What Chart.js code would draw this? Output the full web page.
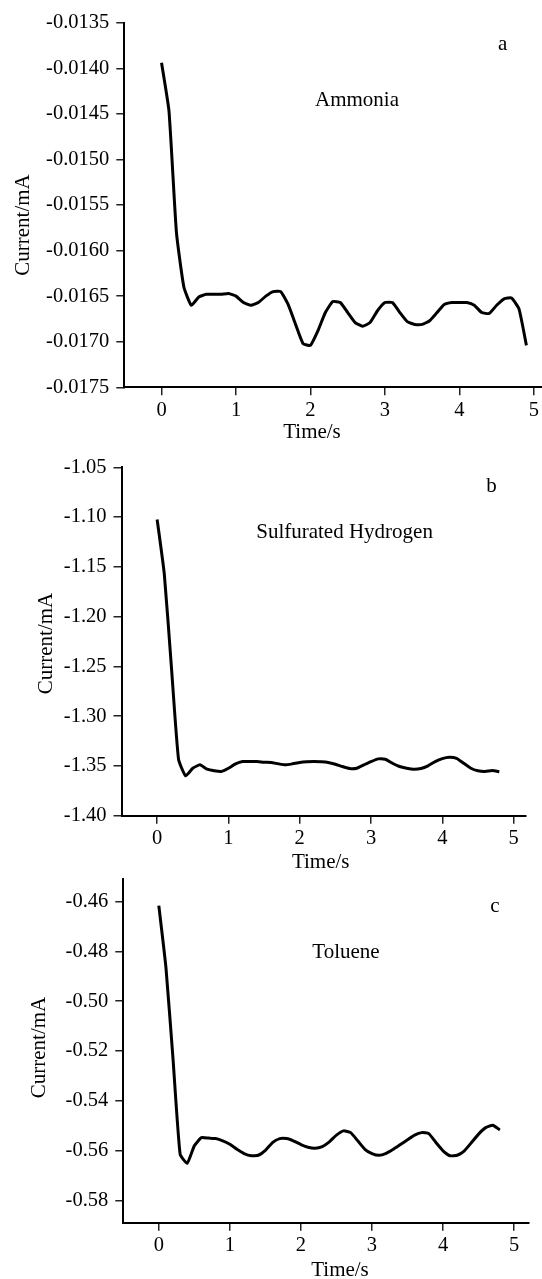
<!DOCTYPE html>
<html><head><meta charset="utf-8">
<script src="https://cdn.jsdelivr.net/npm/chart.js@4"></script>
<style>
html,body{margin:0;padding:0;background:#fff;}
body{width:542px;height:1279px;position:relative;overflow:hidden;}
.p{position:absolute;left:0;width:542px;}
</style></head><body>
<div class="p" style="top:0;height:445px"><canvas id="ca"></canvas></div>
<div class="p" style="top:445px;height:427px"><canvas id="cb"></canvas></div>
<div class="p" style="top:860px;height:419px"><canvas id="cc"></canvas></div>
<script>
// ---- data ----
const timeA = [0,0.1,0.2,0.3,0.4,0.5,0.6,0.7,0.8,0.9,1.0,1.1,1.2,1.3,1.4,1.5,1.6,1.7,1.8,1.9,2.0,2.1,2.2,2.3,2.4,2.5,2.6,2.7,2.8,2.9,3.0,3.1,3.2,3.3,3.4,3.5,3.6,3.7,3.8,3.9,4.0,4.1,4.2,4.3,4.4,4.5,4.6,4.7,4.8,4.9];
const currentAmmonia = [-0.01394,-0.01447,-0.0158,-0.0164,-0.0166,-0.01651,-0.01648,-0.01648,-0.01648,-0.01647,-0.0165,-0.01657,-0.0166,-0.01657,-0.0165,-0.01645,-0.01645,-0.01659,-0.01681,-0.01702,-0.01704,-0.01688,-0.01668,-0.01656,-0.01657,-0.01668,-0.01679,-0.01683,-0.01679,-0.01666,-0.01657,-0.01657,-0.01668,-0.01678,-0.01681,-0.01681,-0.01677,-0.01668,-0.01659,-0.01657,-0.01657,-0.01657,-0.0166,-0.01668,-0.01669,-0.0166,-0.01653,-0.01652,-0.01664,-0.01704];
const timeBC = [0,0.1,0.2,0.3,0.4,0.5,0.6,0.7,0.8,0.9,1.0,1.1,1.2,1.3,1.4,1.5,1.6,1.7,1.8,1.9,2.0,2.1,2.2,2.3,2.4,2.5,2.6,2.7,2.8,2.9,3.0,3.1,3.2,3.3,3.4,3.5,3.6,3.7,3.8,3.9,4.0,4.1,4.2,4.3,4.4,4.5,4.6,4.7,4.8];
const currentH2S = [-1.1024,-1.1569,-1.2504,-1.3433,-1.36,-1.3523,-1.3489,-1.3533,-1.3549,-1.3556,-1.3523,-1.3479,-1.3456,-1.3456,-1.3456,-1.3463,-1.3466,-1.3479,-1.3489,-1.3479,-1.3466,-1.3459,-1.3456,-1.3459,-1.3466,-1.3483,-1.3506,-1.3526,-1.3523,-1.3489,-1.3456,-1.3429,-1.3433,-1.3473,-1.3506,-1.3523,-1.3533,-1.3526,-1.3499,-1.3456,-1.3426,-1.3412,-1.3423,-1.3473,-1.3523,-1.3549,-1.3556,-1.3546,-1.3559];
const currentToluene = [-0.4616,-0.4864,-0.5233,-0.5615,-0.5651,-0.5581,-0.5548,-0.555,-0.5552,-0.5561,-0.5575,-0.5595,-0.5612,-0.5621,-0.5619,-0.5599,-0.5568,-0.5552,-0.5552,-0.5562,-0.5576,-0.5587,-0.5591,-0.5584,-0.5565,-0.5538,-0.5521,-0.5528,-0.5561,-0.5595,-0.5612,-0.5619,-0.5611,-0.5595,-0.5576,-0.5557,-0.5538,-0.5528,-0.5532,-0.5568,-0.5601,-0.5621,-0.5619,-0.5601,-0.5568,-0.5534,-0.5508,-0.5498,-0.5517];
const xTicks = [0,1,2,3,4,5];
const yTicksA = [-0.0175,-0.0170,-0.0165,-0.0160,-0.0155,-0.0150,-0.0145,-0.0140,-0.0135];
const yTicksB = [-1.40,-1.35,-1.30,-1.25,-1.20,-1.15,-1.10,-1.05];
const yTicksC = [-0.58,-0.56,-0.54,-0.52,-0.50,-0.48,-0.46];
const gasNames = ['Ammonia','Sulfurated Hydrogen','Toluene'];
const panelLetters = ['a','b','c'];
const xTitle = 'Time/s';
const yTitle = 'Current/mA';

// ---- drawing ----
const FONT = '"Liberation Serif", "Times New Roman", serif';
const textPlugin = {
  id: 'panelText',
  afterDraw(chart, args, o) {
    const {ctx} = chart;
    const x = chart.scales.x, y = chart.scales.y;
    ctx.save();
    ctx.fillStyle = '#000';
    ctx.font = '21px ' + FONT;
    ctx.textBaseline = 'alphabetic';
    ctx.textAlign = 'center';
    ctx.fillText(o.letter, x.getPixelForValue(o.letterAt[0]), y.getPixelForValue(o.letterAt[1]));
    ctx.fillText(o.name, x.getPixelForValue(o.nameAt[0]), y.getPixelForValue(o.nameAt[1]));
    ctx.fillText(xTitle, o.xTitlePos[0], o.xTitlePos[1]);
    ctx.translate(o.yTitlePos[0], o.yTitlePos[1]);
    ctx.rotate(-Math.PI / 2);
    ctx.fillText(yTitle, 0, 0);
    ctx.restore();
  }
};

function makeChart(id, cfg) {
  const pts = cfg.t.map((t, i) => ({x: t, y: cfg.v[i]}));
  return new Chart(document.getElementById(id), {
    type: 'line',
    data: { datasets: [{ data: pts, borderColor: '#000', borderWidth: 3, pointRadius: 0,
      tension: 0.15, borderJoinStyle: 'round', borderCapStyle: 'butt', fill: false, clip: false }] },
    options: {
      responsive: true, maintainAspectRatio: false, animation: false,
      layout: { padding: { top: cfg.padTop, right: cfg.padRight, left: 0, bottom: 0 } },
      plugins: { legend: { display: false }, tooltip: { enabled: false },
        panelText: cfg.text },
      scales: {
        x: {
          type: 'linear', min: -0.5, max: cfg.xMax,
          afterBuildTicks: s => { s.ticks = xTicks.map(v => ({value: v})); },
          afterFit: s => { s.height = cfg.xAxisH; },
          border: { display: true, color: '#000', width: 2 },
          grid: { drawOnChartArea: false, drawTicks: true, tickLength: 8, color: '#222', lineWidth: 1.5 },
          ticks: { color: '#000', font: { family: FONT, size: 20.5 }, padding: 3, maxRotation: 0,
            callback: v => String(v) }
        },
        y: {
          type: 'linear', min: cfg.yMin, max: cfg.yMax,
          afterBuildTicks: s => { s.ticks = cfg.yTicks.map(v => ({value: v})); },
          afterFit: s => { s.width = cfg.yAxisW; },
          border: { display: true, color: '#000', width: 2 },
          grid: { drawOnChartArea: false, drawTicks: true, tickLength: 8, color: '#222', lineWidth: 1.5 },
          ticks: { color: '#000', font: { family: FONT, size: 20.5 }, padding: 7,
            callback: v => v.toFixed(cfg.dec) }
        }
      }
    },
    plugins: [textPlugin]
  });
}

makeChart('ca', { t: timeA, v: currentAmmonia, yTicks: yTicksA, yMin: -0.0175, yMax: -0.0135, dec: 4,
  xMax: 5.1, padTop: 22.7, padRight: 0, xAxisH: 57.7, yAxisW: 124.3,
  text: { letter: panelLetters[0], letterAt: [4.58, -0.0138], name: gasNames[0], nameAt: [2.625, -0.014414],
    xTitlePos: [312, 438], yTitlePos: [29.4, 225] } });

makeChart('cb', { t: timeBC, v: currentH2S, yTicks: yTicksB, yMin: -1.40, yMax: -1.05, dec: 2,
  xMax: 5.17, padTop: 22.3, padRight: 16.3, xAxisH: 56.3, yAxisW: 121.5,
  text: { letter: panelLetters[1], letterAt: [4.692, -1.0745], name: gasNames[1], nameAt: [2.629, -1.1213],
    xTitlePos: [320.7, 423], yTitlePos: [51.8, 198.5] } });

makeChart('cc', { t: timeBC, v: currentToluene, yTicks: yTicksC, yMin: -0.589, yMax: -0.451, dec: 2,
  xMax: 5.2, padTop: 16, padRight: 13.7, xAxisH: 56.3, yAxisW: 123.3,
  text: { letter: panelLetters[2], letterAt: [4.731, -0.4643], name: gasNames[2], nameAt: [2.634, -0.4828],
    xTitlePos: [340, 416], yTitlePos: [45, 187.5] } });
</script>
</body></html>
